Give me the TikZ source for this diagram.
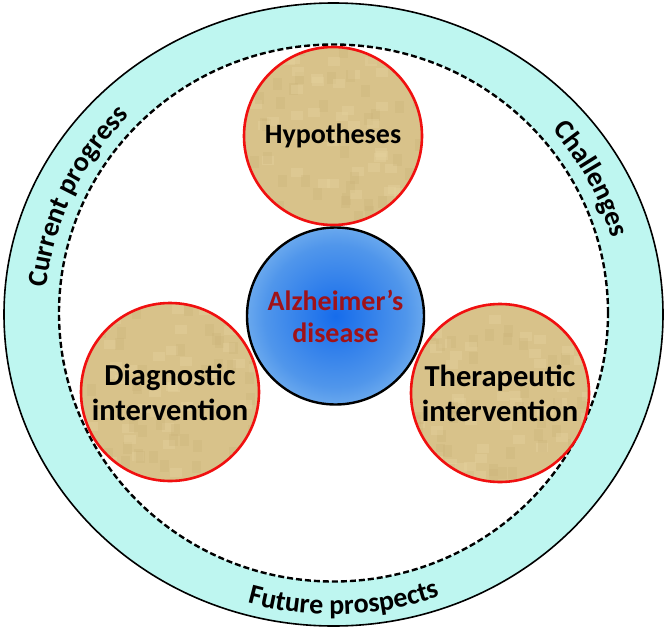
\documentclass[tikz,border=0pt]{standalone}
\usepackage{fontspec}
\setmainfont{Carlito}
\usetikzlibrary{decorations.text}
\definecolor{bandcyan}{RGB}{190,246,240}
\definecolor{sandfill}{RGB}{216,194,138}
\definecolor{sandlight}{RGB}{230,210,158}
\definecolor{sanddark}{RGB}{200,176,118}
\definecolor{ringred}{RGB}{240,16,16}
\definecolor{adred}{RGB}{160,18,24}
\definecolor{bluec}{RGB}{22,108,235}
\definecolor{bluem}{RGB}{80,150,235}
\definecolor{bluel}{RGB}{170,215,245}
\definecolor{bluee}{RGB}{218,242,252}
\pgfdeclareradialshading{adblue}{\pgfpoint{0bp}{0bp}}{color(0bp)=(bluec); color(20bp)=(bluem); color(38bp)=(bluel); color(50bp)=(bluee)}
\pgfmathsetseed{7}
\tikzset{
  grain/.style={path picture={
    \foreach \i in {1,...,45}{
      \fill[sandlight, opacity=0.4] ([shift={(rand*88pt,rand*88pt)}]path picture bounding box.center) rectangle ++(12pt,9pt);
      \fill[sanddark, opacity=0.25] ([shift={(rand*88pt,rand*88pt)}]path picture bounding box.center) rectangle ++(9pt,12pt);
    }}},
  topic/.style={circle, draw=ringred, line width=2.6pt, fill=sandfill, grain,
    minimum size=178pt, inner sep=0pt, align=center,
    font=\fontsize{28}{34}\selectfont\bfseries, text=black},
  core/.style={circle, draw=black, line width=2.4pt, shading=adblue,
    minimum size=177pt, inner sep=0pt, align=center,
    font=\fontsize{28}{32}\selectfont\bfseries, text=adred},
  band/.style={draw=black, line width=1.6pt, fill=bandcyan},
  inner ring/.style={draw=black, line width=2.4pt, fill=white, dash pattern=on 6pt off 3pt},
  ringtext/.style={decorate, decoration={text along path, text align=center, text={#1}}}
}
\begin{document}
\begin{tikzpicture}[x=1pt,y=1pt]
\useasboundingbox (0,0) rectangle (666,-629);
\coordinate (c) at (333.5,-314.5);
\coordinate (ci) at (333.5,-313);
\path[band] (c) ellipse [x radius=329.5pt, y radius=311.5pt];
\path[inner ring] (ci) ellipse [x radius=274.5pt, y radius=268.5pt];
% ring texts
\path[ringtext={|\fontsize{28}{30}\selectfont\bfseries|Current progress}]
  (c) ++(200:288pt and 281pt) arc[start angle=200, end angle=110, x radius=288pt, y radius=281pt];
\path[ringtext={|\fontsize{28}{30}\selectfont\bfseries|Challenges}]
  (c) ++(72:289pt and 282pt) arc[start angle=72, end angle=-16, x radius=289pt, y radius=282pt];
\path[ringtext={|\fontsize{28}{30}\selectfont\bfseries|Future prospects}]
  (c) ++(232:312pt and 300pt) arc[start angle=232, end angle=312, x radius=312pt, y radius=300pt];
% circles
\node[topic] (hyp) at (333,-136) {Hypotheses};
\node[topic, font=\fontsize{30.5}{35}\selectfont\bfseries] (diag) at (170,-392) {Diagnostic\\intervention};
\node[topic, font=\fontsize{30.5}{35}\selectfont\bfseries] (ther) at (500,-393) {Therapeutic\\intervention};
\node[core] (ad) at (335.5,-316) {Alzheimer’s\\disease};
\end{tikzpicture}
\end{document}
